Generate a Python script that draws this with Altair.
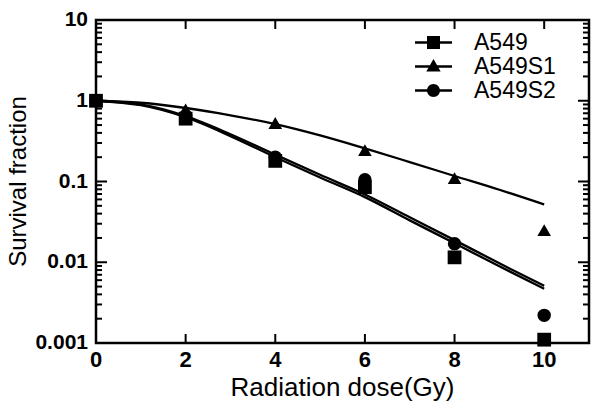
import altair as alt
import pandas as pd

# ---- data ----
series = ["A549", "A549S1", "A549S2"]
doses = [0, 2, 4, 6, 8, 10]
sf_a549 = [1.0, 0.6, 0.18, 0.085, 0.0115, 0.0011]
sf_s1 = [1.0, 0.78, 0.53, 0.245, 0.11, 0.025]
sf_s2 = [1.0, 0.65, 0.2, 0.105, 0.017, 0.0022]

fit_dose = [0, 1, 2, 3, 4, 5, 6, 7, 8, 9, 10]
fit_a549 = [1.0, 0.88, 0.625, 0.365, 0.2, 0.112, 0.064, 0.033, 0.0172, 0.0089, 0.0047]
fit_s1 = [1.0, 0.944, 0.813, 0.661, 0.513, 0.372, 0.257, 0.174, 0.117, 0.079, 0.052]
fit_s2 = [1.0, 0.9, 0.645, 0.385, 0.215, 0.121, 0.069, 0.036, 0.0188, 0.0097, 0.0051]

x_ticks = [0, 2, 4, 6, 8, 10]
x_tick_labels = ["0", "2", "4", "6", "8", "10"]
y_major = [0.001, 0.01, 0.1, 1, 10]
y_tick_labels = ["0.001", "0.01", "0.1", "1", "10"]
y_minor = [0.002, 0.003, 0.004, 0.005, 0.006, 0.007, 0.008, 0.009,
           0.02, 0.03, 0.04, 0.05, 0.06, 0.07, 0.08, 0.09,
           0.2, 0.3, 0.4, 0.5, 0.6, 0.7, 0.8, 0.9,
           2, 3, 4, 5, 6, 7, 8, 9]
x_min, x_max = 0, 11
y_min, y_max = 0.001, 10
x_title = "Radiation dose(Gy)"
y_title = "Survival fraction"

pts = pd.DataFrame({
    "series": [s for s in series for _ in doses],
    "dose": doses * 3,
    "sf": sf_a549 + sf_s1 + sf_s2,
})
fits = pd.DataFrame({
    "series": [s for s in series for _ in fit_dose],
    "dose": fit_dose * 3,
    "sf": fit_a549 + fit_s1 + fit_s2,
})

FONT = "Liberation Sans"
xscale = alt.Scale(domain=[x_min, x_max], nice=False, zero=False)
yscale = alt.Scale(type="log", domain=[y_min, y_max], nice=False)


def X(field):
    return alt.X(field, scale=xscale, axis=None)


def Y(field):
    return alt.Y(field, scale=yscale, axis=None)


def XD(value):
    return alt.X(datum=value, scale=xscale, axis=None)


def YD(value):
    return alt.Y(datum=value, scale=yscale, axis=None)


fit_lines = alt.Chart(fits).mark_line(color="black", strokeWidth=2.3,
                                      interpolate="monotone").encode(
    x=X("dose:Q"), y=Y("sf:Q"), detail="series:N")

points = alt.Chart(pts).mark_point(filled=True, color="black", opacity=1).encode(
    x=X("dose:Q"), y=Y("sf:Q"),
    shape=alt.Shape("series:N", legend=None,
                    scale=alt.Scale(domain=series,
                                    range=["square", "triangle-up", "circle"])),
    size=alt.Size("series:N", legend=None,
                  scale=alt.Scale(domain=series, range=[190, 180, 155])),
)


# inward-pointing frame ticks, placed through the scales
def y_ticks(values, at, length, inward):
    return alt.Chart(pd.DataFrame({"v": values})).mark_tick(
        orient="horizontal", size=length, thickness=2, color="black",
        opacity=1, xOffset=inward * length / 2).encode(
        x=XD(at), y=Y("v:Q"))


def x_ticks_layer(values, at, length, inward):
    return alt.Chart(pd.DataFrame({"v": values})).mark_tick(
        orient="vertical", size=length, thickness=2, color="black",
        opacity=1, yOffset=inward * length / 2).encode(
        x=X("v:Q"), y=YD(at))


tick_layers = [
    y_ticks(y_major, x_min, 11, 1),
    y_ticks(y_minor, x_min, 6, 1),
    y_ticks(y_major, x_max, 11, -1),
    y_ticks(y_minor, x_max, 6, -1),
    x_ticks_layer(x_ticks[1:], y_min, 9, -1),
    x_ticks_layer(x_ticks[1:], y_max, 9, 1),
]

# tick labels and axis titles as text through the scales
y_labels = alt.Chart(pd.DataFrame({"v": y_major, "t": y_tick_labels})).mark_text(
    align="right", baseline="middle", dx=-8, font=FONT, fontSize=21,
    fontWeight="bold", color="black").encode(
    x=XD(x_min), y=Y("v:Q"), text="t:N")

x_labels = alt.Chart(pd.DataFrame({"v": x_ticks, "t": x_tick_labels})).mark_text(
    align="center", baseline="top", dy=7, font=FONT, fontSize=22,
    fontWeight="bold", color="black").encode(
    x=X("v:Q"), y=YD(y_min), text="t:N")

y_title_layer = alt.Chart(pd.DataFrame({"t": [y_title]})).mark_text(
    angle=270, align="center", baseline="middle", dy=-77, font=FONT,
    fontSize=24, color="black").encode(
    x=XD(x_min), y=YD(0.1), text="t:N")

x_title_layer = alt.Chart(pd.DataFrame({"t": [x_title]})).mark_text(
    align="center", baseline="middle", dy=45, font=FONT,
    fontSize=26, color="black").encode(
    x=XD((x_min + x_max) / 2), y=YD(y_min), text="t:N")

# legend symbols: a short line with the marker on it (all filled subpaths)
legend_paths = [
    "M-1.85,-0.12H1.85V0.12H-1.85Z M-0.65,-0.65H0.65V0.65H-0.65Z",
    "M-1.85,-0.12H1.85V0.12H-1.85Z M0,-0.75L0.72,0.5L-0.72,0.5Z",
    "M-1.85,-0.12H1.85V0.12H-1.85Z M0.65,0A0.65,0.65 0 1,1 -0.65,0A0.65,0.65 0 1,1 0.65,0Z",
]
legend_layer = alt.Chart(pts).mark_point(filled=True, color="black", opacity=0).encode(
    x=X("dose:Q"), y=Y("sf:Q"),
    shape=alt.Shape("series:N",
                    scale=alt.Scale(domain=series, range=legend_paths),
                    legend=alt.Legend(orient="none", legendX=326, legendY=11,
                                      title=None, padding=0, rowPadding=0,
                                      symbolSize=400, symbolStrokeWidth=0,
                                      symbolFillColor="black",
                                      symbolStrokeColor="black",
                                      symbolOpacity=1, labelOffset=29,
                                      labelFont=FONT, labelFontSize=23,
                                      labelColor="black")),
)

chart = alt.layer(fit_lines, points, *tick_layers, y_labels, x_labels,
                  y_title_layer, x_title_layer, legend_layer).resolve_scale(
    shape="independent", size="independent"
).properties(
    width=493, height=323,
    autosize=alt.AutoSizeParams(type="none"),
    padding={"left": 88, "top": 12, "right": 3, "bottom": 59},
    background="white",
).configure_view(stroke="black", strokeWidth=2.5)

chart.save("out.html", embed_options={"renderer": "svg", "actions": False})
